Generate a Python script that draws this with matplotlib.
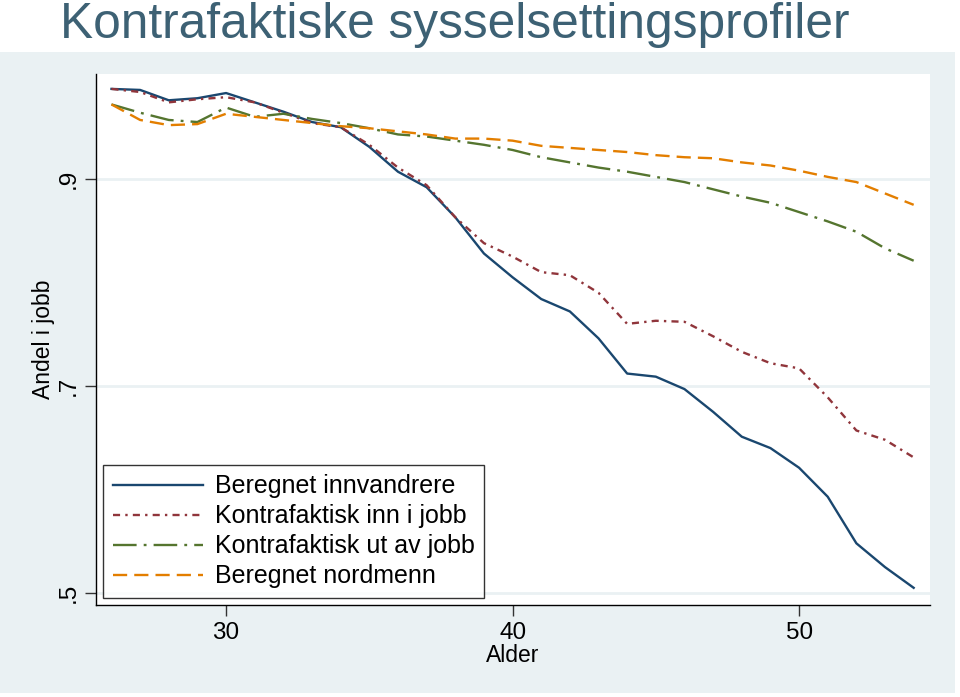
import matplotlib
matplotlib.use("Agg")
import matplotlib.pyplot as plt
from matplotlib.patches import Rectangle

ages = list(range(26, 55))
beregnet_innvandrere = [0.987, 0.986, 0.976, 0.978, 0.983, 0.974, 0.965, 0.955, 0.950, 0.931,
                        0.907, 0.892, 0.863, 0.828, 0.805, 0.784, 0.772, 0.746, 0.712, 0.709,
                        0.697, 0.675, 0.651, 0.640, 0.621, 0.593, 0.548, 0.525, 0.505]
kontra_inn = [0.987, 0.984, 0.974, 0.977, 0.979, 0.974, 0.964, 0.954, 0.950, 0.933,
              0.911, 0.894, 0.863, 0.838, 0.825, 0.810, 0.807, 0.790, 0.760, 0.763,
              0.762, 0.748, 0.733, 0.722, 0.717, 0.689, 0.657, 0.648, 0.631]
kontra_ut = [0.972, 0.964, 0.957, 0.955, 0.969, 0.960, 0.963, 0.958, 0.954, 0.949,
             0.943, 0.941, 0.937, 0.933, 0.928, 0.921, 0.916, 0.911, 0.907, 0.902,
             0.897, 0.890, 0.883, 0.877, 0.868, 0.859, 0.849, 0.833, 0.821]
beregnet_nordmenn = [0.972, 0.957, 0.952, 0.953, 0.963, 0.960, 0.957, 0.954, 0.951, 0.949,
                     0.946, 0.943, 0.939, 0.939, 0.937, 0.932, 0.930, 0.928, 0.926, 0.923,
                     0.921, 0.920, 0.916, 0.913, 0.908, 0.902, 0.897, 0.886, 0.875]
labels = ["Beregnet innvandrere", "Kontrafaktisk inn i jobb",
          "Kontrafaktisk ut av jobb", "Beregnet nordmenn"]
xticks = [30, 40, 50]
yticks = [0.5, 0.7, 0.9]
ytick_labels = [".5", ".7", ".9"]

plt.rcParams['font.family'] = ['Liberation Sans', 'DejaVu Sans']

W, H = 960, 697
fig = plt.figure(figsize=(W / 100, H / 100), dpi=100)
fig.patch.set_facecolor("white")
bg = "#eaf1f3"
fig.patches.append(Rectangle((0, 1 - 693 / H), 955 / W, (693 - 52) / H,
                             transform=fig.transFigure, facecolor=bg, edgecolor="none",
                             zorder=-10))

ax = fig.add_axes([96 / W, 1 - 605 / H, (930 - 96) / W, (605 - 74) / H])
ax.set_zorder(1)
ax.set_facecolor("white")

series = [beregnet_innvandrere, kontra_inn, kontra_ut, beregnet_nordmenn]
colors = ["#1a476f", "#90353b", "#55752f", "#e37e00"]
styles = ["-", (0, (3, 2.2, 1, 2.2)), (0, (10, 3, 1.2, 3)), (0, (6, 3))]
for s, c, ls, lab in zip(series, colors, styles, labels):
    ax.plot(ages, s, color=c, linestyle=ls, linewidth=1.7, label=lab, zorder=3)

ax.set_xlim(25.46, 54.57)
ax.set_ylim(0.4884, 1.0014)
ax.set_xticks(xticks)
ax.set_yticks(yticks)
ax.set_yticklabels(ytick_labels, rotation=90, va="center")
ax.grid(axis="y", color=bg, linewidth=2.0, zorder=1)
ax.grid(axis="x", visible=False)
for side in ["top", "right"]:
    ax.spines[side].set_visible(False)
for side in ["left", "bottom"]:
    ax.spines[side].set_color("#000000")
    ax.spines[side].set_linewidth(1.0)
ax.tick_params(axis="both", direction="out", length=8, width=1.0, color="#333333",
               labelsize=17.5, labelcolor="#000000", pad=4)
ax.set_xlabel("Alder", fontsize=16.5, labelpad=0)
ax.set_ylabel("Andel i jobb", fontsize=16.5, labelpad=2)

leg = ax.legend(loc="lower left",
                bbox_to_anchor=((103 - 96) / (930 - 96), (605 - 598) / (605 - 74)),
                fontsize=18, frameon=True, fancybox=False, handlelength=3.6,
                handletextpad=0.5, labelspacing=0.24, borderpad=0.38, borderaxespad=0)
leg.get_frame().set_edgecolor("#000000")
leg.get_frame().set_linewidth(1.0)

fig.text(60 / W, 1 - 38 / H, "Kontrafaktiske sysselsettingsprofiler", fontsize=35.7,
         color="#3d6174", ha="left", va="baseline")

fig.savefig("out.png", dpi=100, facecolor="white")
